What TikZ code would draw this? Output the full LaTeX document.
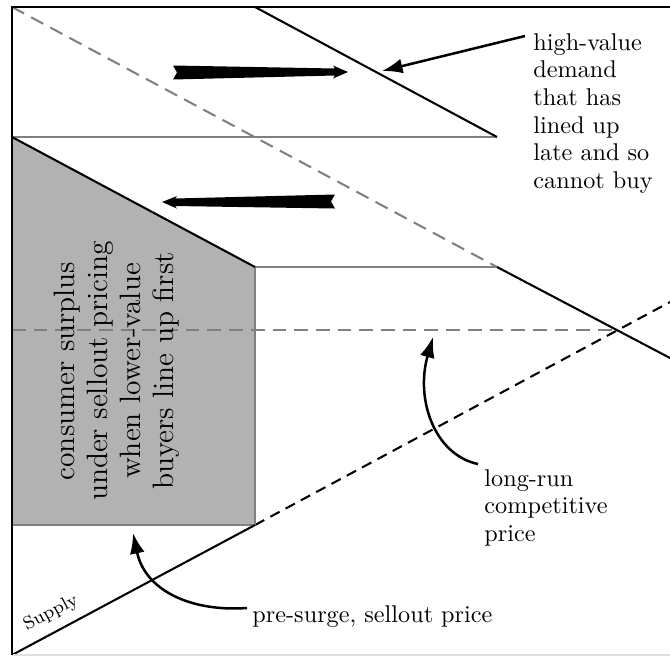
\documentclass[tikz,border=0pt]{standalone}
\usetikzlibrary{arrows.meta}
\begin{document}
\begin{tikzpicture}[x=0.01538cm,y=-0.01538cm,
  blk/.style={black,line width=0.9pt},
  gry/.style={gray,line width=0.9pt},
  gdash/.style={gray,line width=0.9pt,dash pattern=on 6pt off 3.5pt},
  bdash/.style={black,line width=0.9pt,dash pattern=on 4.6pt off 3pt},
  callout/.style={black,line width=1.1pt,-{Latex[length=9pt,width=6.5pt]}},
  fat/.style={fill=black},
  lbl/.style={inner sep=0pt,align=left,font=\fontsize{10.6}{12.1}\selectfont}]
\useasboundingbox (0,0) rectangle (670,656);
% key points
\coordinate (O) at (12,655);
\coordinate (TL) at (12,7);
\coordinate (TR) at (670,7);
\coordinate (BR) at (670,655);
\coordinate (A) at (12,137);
\coordinate (B) at (255,267);
\coordinate (C) at (255,525);
\coordinate (D) at (12,525);
\coordinate (E) at (497,137);
\coordinate (F) at (497,267);
\coordinate (G) at (255,7);
\coordinate (X) at (618,330);
\coordinate (P) at (12,330);
\coordinate (S) at (670,302);
\coordinate (Dend) at (670,358);
% shaded surplus
\fill[black!30] (A)--(B)--(C)--(D)--cycle;
% dashed lines
\draw[gdash] (TL)--(F);
\draw[gdash] (P)--(X);
\draw[bdash] (C)--(S);
% gray lines
\draw[gry] (A)--(E);
\draw[gry] (B)--(F);
\draw[gry] (B)--(C);
\draw[gry] (D)--(C);
% black lines
\draw[blk] (A)--(B);
\draw[blk] (G)--(E);
\draw[blk] (F)--(Dend);
\draw[blk] (O)--(C);
% frame
\draw[gray!25,line width=0.6pt] (O)--(BR);
\draw[blk] (TR)--(TL)--(O);
% fat arrows
\fill[fat] (173,65.5)--(335,68.5)--(333,65.5)--(348,72)--(333,78.5)--(335,75.5)--(173,79.5)--(177,72.5)--cycle;
\fill[fat] (335,194.5)--(175,198.5)--(177,196)--(162,202)--(177,208.5)--(175,206)--(335,208.5)--(331,201.5)--cycle;
% labels
\node[lbl,anchor=north west] (hv) at (533,33) {high-value\\demand\\that has\\lined up\\late and so\\cannot buy};
\node[lbl,anchor=north west] (lr) at (484,469) {long-run\\competitive\\price};
\node[lbl,anchor=west] (ps) at (252,617) {pre-surge, sellout price};
\node[inner sep=0pt,font=\footnotesize,rotate=28] (sup) at (51,613) {Supply};
\node[inner sep=0pt,align=center,font=\fontsize{12.9}{14.5}\selectfont,rotate=90] (cs) at (117,371) {consumer surplus\\under sellout pricing\\when lower-value\\buyers line up first};
% callouts
\coordinate (hvs) at (525,36);
\coordinate (hvt) at (382,71);
\draw[callout] (hvs)--(hvt);
\coordinate (lrs) at (478,464);
\coordinate (lrt) at (433,337);
\draw[callout] (lrs) .. controls (435,455) and (415,400) .. (lrt);
\coordinate (pss) at (247,608);
\coordinate (pst) at (133,533);
\draw[callout] (pss) .. controls (190,612) and (145,590) .. (pst);
\end{tikzpicture}
\end{document}
